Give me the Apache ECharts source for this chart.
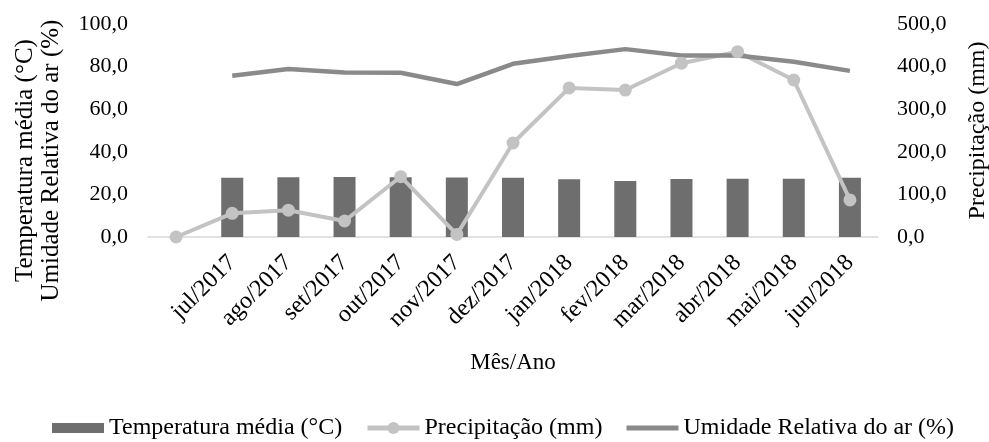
<!DOCTYPE html>
<html>
<head>
<meta charset="utf-8">
<script src="https://cdn.jsdelivr.net/npm/echarts@6/dist/echarts.min.js"></script>
<style>html,body{margin:0;padding:0;background:#fff;}#c{width:989px;height:442px;}</style>
</head>
<body>
<div id="c"></div>
<script>
var categories = ['', 'jul/2017', 'ago/2017', 'set/2017', 'out/2017', 'nov/2017', 'dez/2017', 'jan/2018', 'fev/2018', 'mar/2018', 'abr/2018', 'mai/2018', 'jun/2018'];
var temperatura = [null, 27.8, 28.0, 28.2, 28.0, 27.9, 27.8, 27.1, 26.3, 27.2, 27.3, 27.3, 27.8];
var precipitacao = [0, 55.6, 63, 37.6, 141.5, 6, 220.7, 350, 345, 408, 435, 368.5, 87];
var umidade = [null, 75.7, 78.9, 77.2, 77.1, 71.8, 81.3, 85.0, 88.2, 85.2, 85.2, 82.3, 78.0];
var leftTicks = [0, 20, 40, 60, 80, 100];
var rightTicks = [0, 100, 200, 300, 400, 500];
var seriesNames = ['Temperatura média (°C)', 'Precipitação (mm)', 'Umidade Relativa do ar (%)'];

var font = 'Liberation Serif';
function fmt(v){ return v.toFixed(1).replace('.', ','); }

var legendText = {fontFamily: font, fontSize: 24, color: '#000'};
function legendAt(left, name, h, extra) {
  var l = {
    left: left, top: 428 - 12, padding: 0, itemWidth: 52, itemHeight: h,
    textStyle: legendText, data: [Object.assign({name: name}, extra || {})]
  };
  return l;
}

var chart = echarts.init(document.getElementById('c'), null, {renderer: 'canvas'});
chart.setOption({
  backgroundColor: '#ffffff',
  animation: false,
  grid: {left: 148, right: 111, top: 24, bottom: 205, containLabel: false, outerBoundsMode: 'none'},
  legend: [
    legendAt(52, seriesNames[0], 10, {icon: 'rect'}),
    legendAt(365, seriesNames[1], 15, {lineStyle: {width: 5}}),
    legendAt(624, seriesNames[2], 15, {itemStyle: {opacity: 0}, lineStyle: {width: 5}})
  ],
  xAxis: {
    type: 'category',
    data: categories,
    boundaryGap: true,
    axisLine: {show: true, lineStyle: {color: '#d9d9d9', width: 1.5}},
    axisTick: {show: false},
    axisLabel: {rotate: 45, interval: 0, fontFamily: font, fontSize: 24, color: '#000', margin: 22},
    name: 'Mês/Ano',
    nameLocation: 'middle',
    nameGap: 114,
    nameTextStyle: {fontFamily: font, fontSize: 23, color: '#000'}
  },
  yAxis: [
    {
      type: 'value', min: leftTicks[0], max: leftTicks[leftTicks.length - 1], interval: 20,
      splitLine: {show: false}, axisLine: {show: false}, axisTick: {show: false},
      axisLabel: {formatter: fmt, fontFamily: font, fontSize: 22, color: '#000', margin: 20},
      name: seriesNames[0] + '\n' + seriesNames[2],
      nameLocation: 'middle', nameGap: 84, nameRotate: 90,
      nameTextStyle: {fontFamily: font, fontSize: 25, color: '#000', lineHeight: 26, padding: [0, 60, 0, 0]}
    },
    {
      type: 'value', min: rightTicks[0], max: rightTicks[rightTicks.length - 1], interval: 100,
      splitLine: {show: false}, axisLine: {show: false}, axisTick: {show: false},
      axisLabel: {formatter: fmt, fontFamily: font, fontSize: 22, color: '#000', margin: 19},
      name: seriesNames[1],
      nameLocation: 'middle', nameGap: 88, nameRotate: 90,
      nameTextStyle: {fontFamily: font, fontSize: 24, color: '#000'}
    }
  ],
  series: [
    {
      name: seriesNames[0], type: 'bar', yAxisIndex: 0,
      data: temperatura, barWidth: 22,
      itemStyle: {color: '#6e6e6e'}
    },
    {
      name: seriesNames[1], type: 'line', yAxisIndex: 1,
      data: precipitacao, symbol: 'circle', symbolSize: 13, showAllSymbol: true,
      lineStyle: {color: '#c3c3c3', width: 4},
      itemStyle: {color: '#c3c3c3'}
    },
    {
      name: seriesNames[2], type: 'line', yAxisIndex: 0,
      data: umidade, symbol: 'none', connectNulls: false,
      lineStyle: {color: '#8a8a8a', width: 4.5},
      itemStyle: {color: '#8a8a8a'}
    }
  ]
});
</script>
</body>
</html>
